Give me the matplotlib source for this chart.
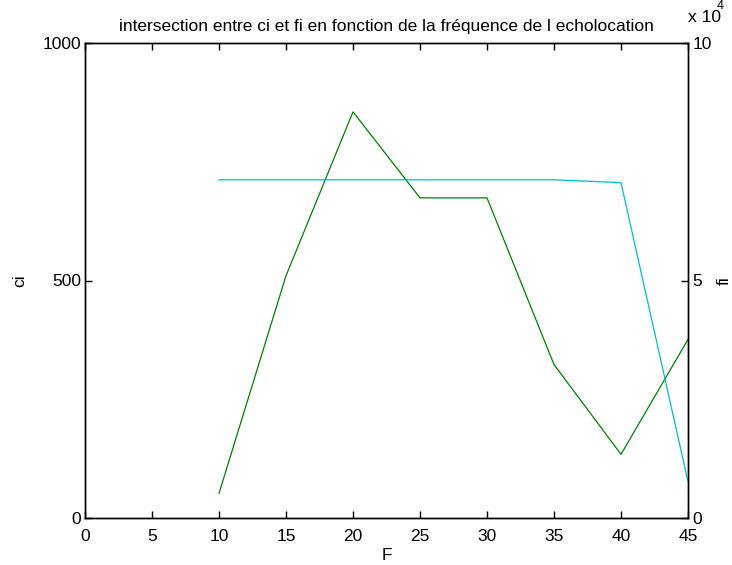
import matplotlib
matplotlib.use("Agg")
import matplotlib.pyplot as plt
from matplotlib.ticker import FuncFormatter

plt.rcParams['font.family'] = ['Liberation Sans', 'DejaVu Sans']

F = [10, 15, 20, 25, 30, 35, 40, 45]
ci = [52, 510, 855, 674, 674, 323, 134, 376]
fi = [71200, 71200, 71200, 71200, 71200, 71200, 70600, 7650]

title = "intersection entre ci et fi en fonction de la fréquence de l echolocation"
xticks = [0, 5, 10, 15, 20, 25, 30, 35, 40, 45]
ci_ticks = [0, 500, 1000]
fi_ticks = [0, 50000, 100000]

fs = 12.5

fig = plt.figure(figsize=(7.32, 5.65), dpi=100)
ax1 = fig.add_axes([85 / 732, 47 / 565, (688 - 85) / 732, (518 - 43) / 565])
ax2 = ax1.twinx()

ax1.plot(F, ci, color='#008000', lw=0.9)
ax2.plot(F, fi, color='#00bfbf', lw=0.9)

ax1.set_xlim(0, 45)
ax1.set_ylim(0, 1000)
ax2.set_ylim(0, 100000)

ax1.set_xticks(xticks)
ax1.set_yticks(ci_ticks)
ax2.set_yticks(fi_ticks)
ax2.yaxis.set_major_formatter(FuncFormatter(lambda v, p: f"{v / 1e4:g}"))

for ax in (ax1, ax2):
    for s in ax.spines.values():
        s.set_linewidth(1.0)
    ax.tick_params(direction='in', length=5, width=1.0, labelsize=fs, pad=3)
ax1.tick_params(axis='x', top=True, bottom=True, pad=8)
ax2.tick_params(axis='y', right=True, left=False, pad=3)

ax1.set_xlabel("F", fontsize=fs, labelpad=3)
ax1.set_ylabel("ci", fontsize=fs, labelpad=11)
ax2.set_ylabel("fi", fontsize=fs, labelpad=4)
ax1.set_title(title, fontsize=fs, pad=9)

fig.text(688 / 732, 1 - 18 / 565, "x 10", fontsize=fs, ha='left', va='center')
fig.text(717 / 732, 1 - 6 / 565, "4", fontsize=9, ha='left', va='center')

fig.savefig("out.png", dpi=100)
